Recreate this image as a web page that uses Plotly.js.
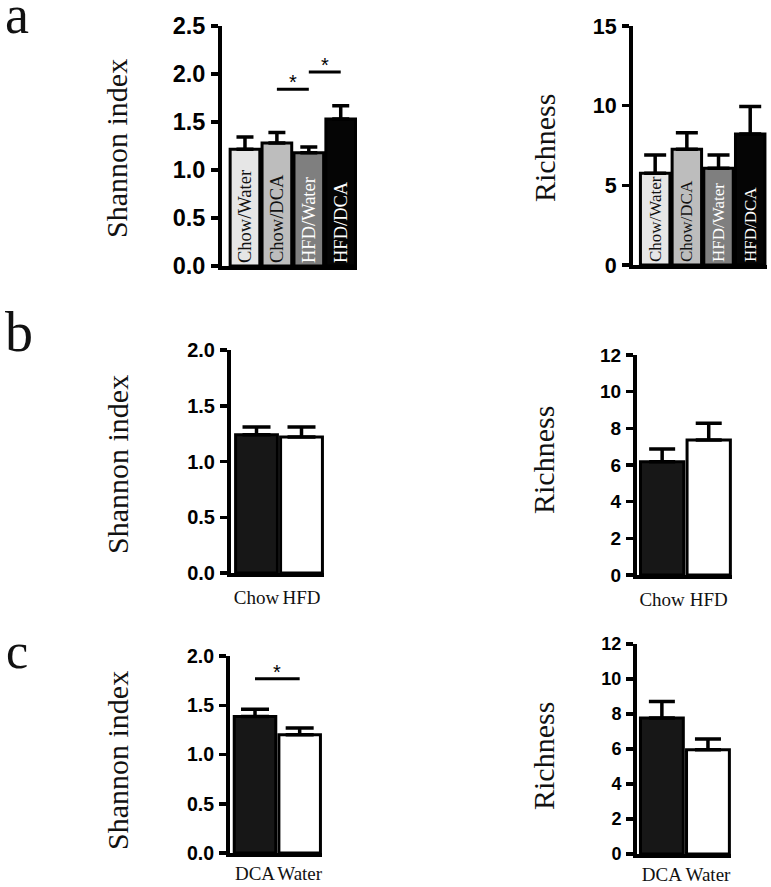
<!DOCTYPE html>
<html>
<head>
<meta charset="utf-8">
<script src="https://cdn.plot.ly/plotly-3.0.1.min.js"></script>
<style>
  html, body { margin: 0; padding: 0; background: #fff; }
  #chart { width: 771px; height: 887px; }
</style>
</head>
<body>
<div id="chart"></div>
<script>
// ---------- data ----------
const catsA = ['Chow/Water', 'Chow/DCA', 'HFD/Water', 'HFD/DCA'];
const shannonA = [1.215, 1.28, 1.18, 1.53];
const shannonAErr = [0.13, 0.11, 0.06, 0.14];
const richA = [5.76, 7.26, 6.07, 8.22];
const richAErr = [1.14, 1.04, 0.83, 1.72];

const catsB = ['Chow', 'HFD'];
const shannonB = [1.24, 1.22];
const shannonBErr = [0.07, 0.09];
const richB = [6.18, 7.36];
const richBErr = [0.69, 0.92];

const catsC = ['DCA', 'Water'];
const shannonC = [1.385, 1.20];
const shannonCErr = [0.075, 0.07];
const richC = [7.77, 5.96];
const richCErr = [0.95, 0.61];

// significance brackets: [from, to, height]
const sigA = [['Chow/DCA', 'HFD/Water', 1.84], ['HFD/Water', 'HFD/DCA', 2.02]];
const sigC = [['DCA', 'Water', 1.77]];

const colorsA = ['#e6e6e6', '#bdbdbd', '#7f7f7f', '#050505'];
const textColorsA = ['#111111', '#111111', '#ffffff', '#ffffff'];
const colorsBC = ['#171717', '#ffffff'];

// ---------- helpers ----------
const W = 771, H = 887;
const xd = (a, b) => [a / W, b / W];
const yd = (top, bottom) => [1 - bottom / H, 1 - top / H];
const SERIF = 'Liberation Serif, Times New Roman, serif';
const SANS = 'Liberation Sans, Arial, sans-serif';

function barTrace(cats, vals, errs, colors, xa, ya, capw, withText, textSize) {
  const t = {
    type: 'bar', x: cats, y: vals, xaxis: xa, yaxis: ya,
    marker: { color: colors, line: { color: '#000', width: 3 } },
    error_y: { type: 'data', symmetric: false, array: errs, arrayminus: errs.map(() => 0),
               color: '#000', thickness: 3.5, width: capw },
    cliponaxis: false, showlegend: false, hoverinfo: 'none'
  };
  if (withText) {
    t.text = cats;
    t.textposition = 'inside';
    t.insidetextanchor = 'start';
    t.textangle = -90;
    t.constraintext = 'none';
    t.textfont = { family: SERIF, size: textSize, color: textColorsA };
  }
  return t;
}

function sigTraces(sig, xa, ya) {
  return sig.map(s => ({
    type: 'scatter', mode: 'lines', x: [s[0], s[1]], y: [s[2], s[2]],
    xaxis: xa, yaxis: ya, line: { color: '#000', width: 3 },
    cliponaxis: false, showlegend: false, hoverinfo: 'none'
  }));
}

function sigStars(sig, cats, xa, ya) {
  return sig.map(s => ({
    xref: xa, yref: ya,
    x: (cats.indexOf(s[0]) + cats.indexOf(s[1])) / 2, y: s[2],
    text: '*', showarrow: false, yanchor: 'bottom', yshift: -6,
    font: { family: SANS, size: 20, color: '#000' }
  }));
}

const data = [
  barTrace(catsA, shannonA, shannonAErr, colorsA, 'x', 'y', 8.5, true, 18.5),
  barTrace(catsA, richA, richAErr, colorsA, 'x2', 'y2', 11, true, 17),
  barTrace(catsB, shannonB, shannonBErr, colorsBC, 'x3', 'y3', 14, false),
  barTrace(catsB, richB, richBErr, colorsBC, 'x4', 'y4', 13, false),
  barTrace(catsC, shannonC, shannonCErr, colorsBC, 'x5', 'y5', 14, false),
  barTrace(catsC, richC, richCErr, colorsBC, 'x6', 'y6', 13, false),
  ...sigTraces(sigA, 'x', 'y'),
  ...sigTraces(sigC, 'x5', 'y5')
];

function xAxis(domain, range, anchor, showLabels, standoff) {
  return {
    domain: domain, range: range, anchor: anchor, type: 'category',
    showline: true, linecolor: '#000', linewidth: 4, ticks: '',
    showgrid: false, zeroline: false, fixedrange: true,
    showticklabels: showLabels, ticklabelstandoff: standoff || 0, tickangle: 0,
    tickfont: { family: SERIF, size: 19, color: '#111' }
  };
}
function yAxis(domain, range, dtick, anchor, fontSize, fmt) {
  return {
    domain: domain, range: range, anchor: anchor, dtick: dtick, tick0: 0,
    showline: true, linecolor: '#000', linewidth: 4,
    ticks: 'outside', ticklen: 7, tickwidth: 3.5, tickcolor: '#000',
    showgrid: false, zeroline: false, fixedrange: true, tickformat: fmt,
    ticklabelstandoff: 1,
    tickfont: { family: SANS, size: fontSize, color: '#000', weight: 'bold' }
  };
}

function title(text, x, y, size) {
  return { xref: 'paper', yref: 'paper', x: x / W, y: 1 - y / H, text: text, textangle: -90,
           showarrow: false, xanchor: 'center', yanchor: 'middle',
           font: { family: SERIF, size: size, color: '#111' } };
}
function letter(text, x, y, size) {
  return { xref: 'paper', yref: 'paper', x: x / W, y: 1 - y / H, text: text, showarrow: false,
           xanchor: 'left', yanchor: 'middle', font: { family: SERIF, size: size, color: '#111' } };
}

const layout = {
  width: W, height: H,
  margin: { l: 0, r: 0, t: 0, b: 0 },
  paper_bgcolor: '#fff', plot_bgcolor: '#fff',
  bargap: 0.07, showlegend: false,
  xaxis:  xAxis(xd(222, 357), [-0.72, 3.51], 'y', false),
  yaxis:  yAxis(yd(26, 266), [0, 2.5], 0.5, 'x', 23.5, '.1f'),
  xaxis2: xAxis(xd(633, 767), [-0.70, 3.53], 'y2', false),
  yaxis2: yAxis(yd(26, 265), [0, 15], 5, 'x2', 21.5, 'd'),
  xaxis3: xAxis(xd(231, 324), [-0.567, 1.5], 'y3', true, 4),
  yaxis3: yAxis(yd(350, 573), [0, 2], 0.5, 'x3', 20, '.1f'),
  xaxis4: xAxis(xd(637, 732), [-0.54, 1.5], 'y4', true, 4),
  yaxis4: yAxis(yd(355, 575), [0, 12], 2, 'x4', 19, 'd'),
  xaxis5: xAxis(xd(230, 322), [-0.56, 1.5], 'y5', true, 0),
  yaxis5: yAxis(yd(656, 853), [0, 2], 0.5, 'x5', 19.5, '.1f'),
  xaxis6: xAxis(xd(637, 731), [-0.54, 1.5], 'y6', true, 0),
  yaxis6: yAxis(yd(644, 854), [0, 12], 2, 'x6', 18, 'd'),
  annotations: [
    ...sigStars(sigA, catsA, 'x', 'y'),
    ...sigStars(sigC, catsC, 'x5', 'y5'),
    title('Shannon index', 117, 148, 30),
    title('Shannon index', 117, 464, 30),
    title('Shannon index', 117, 760, 30),
    title('Richness', 545, 148, 30),
    title('Richness', 543, 460, 30),
    title('Richness', 543, 756, 30),
    letter('a', 3, 15, 54),
    letter('b', 3, 332, 56),
    letter('c', 4, 651, 50)
  ]
};

Plotly.newPlot('chart', data, layout, { displayModeBar: false, staticPlot: true });
</script>
</body>
</html>
